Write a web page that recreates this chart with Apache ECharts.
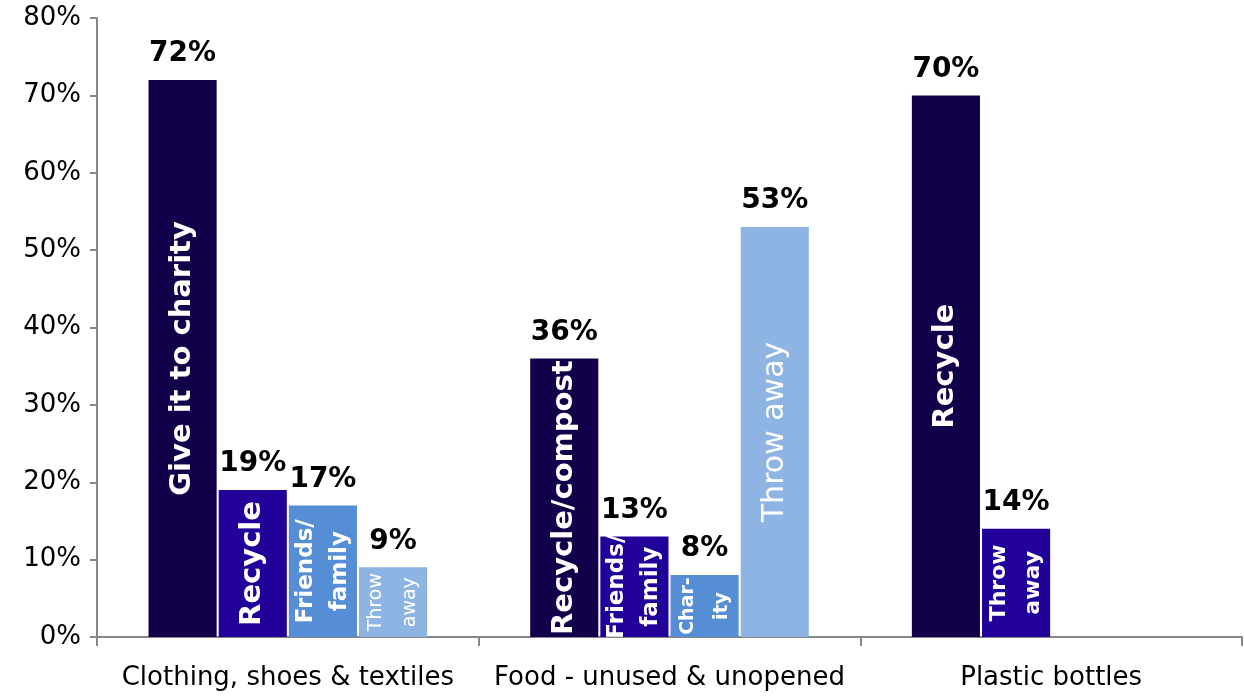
<!DOCTYPE html>
<html>
<head>
<meta charset="utf-8">
<script src="https://cdn.jsdelivr.net/npm/echarts@6/dist/echarts.min.js"></script>
<style>
html,body{margin:0;padding:0;background:#fff;}
#chart{width:1244px;height:698px;}
</style>
</head>
<body>
<div id="chart"></div>
<script>
// ---- data ----
const categories = ['Clothing, shoes & textiles', 'Food - unused & unopened', 'Plastic bottles'];
const series1 = [72, 36, 70];
const series2 = [19, 13, 14];
const series3 = [17, 8, null];
const series4 = [9, 53, null];
const inside1 = ['Give it to charity', 'Recycle/compost', 'Recycle'];
const inside2 = ['Recycle', 'Friends/\nfamily', 'Throw\naway'];
const inside3 = ['Friends/\nfamily', 'Char-\nity', ''];
const inside4 = ['Throw\naway', 'Throw away', ''];
const yTicks = [0, 10, 20, 30, 40, 50, 60, 70, 80];

// ---- styles ----
const FONT = 'DejaVu Sans';
const colors = ['#13004B', '#22009A', '#558ED5', '#8EB4E3'];
const big = {fontSize: 29, fontWeight: 'bold'};
const mid = {fontSize: 23, fontWeight: 'bold', lineHeight: 34};
const small = {fontSize: 22, fontWeight: 'bold', lineHeight: 34};
const tiny = {fontSize: 19, fontWeight: 'bold', lineHeight: 34};
const thin = {fontSize: 19, fontWeight: 'normal', lineHeight: 34};
const bigThin = {fontSize: 30, fontWeight: 'normal'};
const insideStyles = [
  [big, big, big],
  [big, mid, small],
  [mid, tiny, tiny],
  [thin, bigThin, tiny]
];
const values = [series1, series2, series3, series4];
const insides = [inside1, inside2, inside3, inside4];

const chart = echarts.init(document.getElementById('chart'), null, {renderer: 'canvas'});

const barSeries = values.map((vals, si) => ({
  type: 'bar',
  xAxisIndex: 0,
  barGap: '3%',
  barCategoryGap: '27%',
  itemStyle: {color: colors[si]},
  silent: true,
  data: vals.map((v, ci) => ({
    value: v,
    label: Object.assign({
      show: v != null && insides[si][ci] !== '',
      formatter: insides[si][ci],
      position: 'inside',
      rotate: 90,
      align: 'center',
      verticalAlign: 'middle',
      color: '#fff',
      fontFamily: FONT
    }, insideStyles[si][ci])
  }))
}));

const topSeries = values.map((vals, si) => ({
  type: 'bar',
  xAxisIndex: 1,
  barGap: '3%',
  barCategoryGap: '27%',
  itemStyle: {color: 'rgba(0,0,0,0)'},
  silent: true,
  label: {
    show: true,
    position: 'top',
    distance: 12,
    formatter: p => p.value == null ? '' : p.value + '%',
    color: '#000',
    fontFamily: FONT,
    fontSize: 28,
    fontWeight: 'bold'
  },
  data: vals.slice()
}));

chart.setOption({
  animation: false,
  backgroundColor: '#fff',
  grid: {left: 97, right: 2, top: 18, bottom: 61, containLabel: false},
  xAxis: [{
    type: 'category',
    data: categories,
    axisLine: {show: true, lineStyle: {color: '#878787', width: 2}},
    axisTick: {show: true, length: 9, lineStyle: {color: '#878787', width: 2}},
    axisLabel: {color: '#000', fontFamily: FONT, fontSize: 26, margin: 28, interval: 0}
  }, {
    type: 'category',
    data: categories,
    show: false
  }],
  yAxis: {
    type: 'value',
    min: yTicks[0],
    max: yTicks[yTicks.length - 1],
    interval: 10,
    splitLine: {show: false},
    axisLine: {show: true, lineStyle: {color: '#878787', width: 2}},
    axisTick: {show: true, length: 7, lineStyle: {color: '#878787', width: 2}},
    axisLabel: {color: '#000', fontFamily: FONT, fontSize: 26, margin: 16, formatter: '{value}%'}
  },
  series: barSeries.concat(topSeries)
});
</script>
</body>
</html>
